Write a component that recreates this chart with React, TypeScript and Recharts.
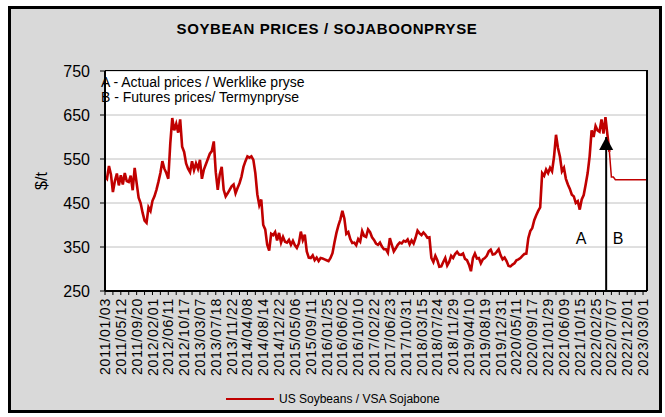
import React from 'react';
import {
  CartesianGrid,
  Line,
  LineChart,
  ReferenceDot,
  ReferenceLine,
  XAxis,
  YAxis
} from 'recharts';

// one label every ~88 trading days; values below are sampled 8 per label step
const tickLabels = [
  '2011/01/03', '2011/05/12', '2011/09/20', '2012/02/01', '2012/06/11', '2012/10/17',
  '2013/03/07', '2013/07/18', '2013/11/22', '2014/04/08', '2014/08/14', '2014/12/22',
  '2015/05/06', '2015/09/11', '2016/01/25', '2016/06/02', '2016/10/10', '2017/02/22',
  '2017/06/23', '2017/10/31', '2018/03/15', '2018/07/24', '2018/11/29', '2019/04/10',
  '2019/08/19', '2019/12/31', '2020/05/11', '2020/09/17', '2021/01/29', '2021/06/09',
  '2021/10/15', '2022/02/25', '2022/07/07', '2022/12/01', '2023/03/01'
];

const STEPS_PER_LABEL = 8;

// US soybeans, actual ($/t)
const actualPrices = [
  510, 505, 534, 515, 475, 500, 517, 490,
  513, 492, 518, 500, 498, 512, 479, 530,
  495, 462, 450, 428, 410, 405, 440, 432,
  455, 465, 480, 498, 518, 545, 528, 518,
  505, 585, 643, 615, 630, 610, 640, 578,
  566, 540, 528, 520, 545, 525, 540, 528,
  548, 505, 526, 538, 550, 562, 568, 590,
  520, 480, 515, 532, 480, 465, 472, 480,
  488, 492, 472, 484, 495, 510, 532, 545,
  556, 553, 556, 548, 518, 470, 445, 458,
  400, 390, 355, 342, 380, 377, 384, 365,
  382, 360, 373, 362, 360, 366, 355, 364,
  354, 348, 358, 385, 366, 378, 340, 326,
  325, 331, 320, 326, 318, 325, 324, 322,
  320, 318, 325, 336, 360, 382, 399, 413,
  432, 415, 380, 384, 368, 359, 360, 354,
  368, 362, 386, 375, 373, 390, 384, 372,
  366, 358, 355, 360, 351, 345, 345, 337,
  370, 355, 340, 347, 355, 360, 358, 364,
  362, 367, 356, 365, 358, 371, 387, 381,
  377, 383, 378, 371, 372, 325, 316, 330,
  320, 305, 306, 316, 325, 308, 316, 330,
  325, 334, 339, 333, 332, 335, 323, 320,
  310, 295, 325, 335, 324, 325, 313, 322,
  325, 330, 340, 344, 333, 334, 339, 345,
  331, 322, 326, 318, 307, 306, 310, 313,
  320, 322, 325, 330, 334, 335, 370, 386,
  393, 411, 422, 432, 440, 518, 512, 526,
  518, 530, 522, 555, 605, 575, 555, 522,
  530, 505, 492, 482, 469, 465, 450, 454,
  435, 458, 468, 492, 518, 556, 615, 600,
  625, 615, 612, 640, 608, 645, 605, 566
];

// futures, joined on to the last actual value
const futurePrices = [
  566, 509, 509, 503, 503, 503, 503, 503, 503, 503,
  503, 503, 503, 503, 503, 503, 503, 503, 503, 503
];

const yTicks = [250, 350, 450, 550, 650, 750];
const arrowAt = 31.67;
const arrowTip = 600;

const futureStart = actualPrices.length - 1;
const total = futureStart + futurePrices.length;
const data = Array.from({ length: total }, (_, i) => ({
  x: i / STEPS_PER_LABEL,
  actual: i < actualPrices.length ? actualPrices[i] : null,
  futures: i >= futureStart ? futurePrices[i - futureStart] : null
}));

const xMax = (total - 1) / STEPS_PER_LABEL;
const xTicks: number[] = [];
for (let t = 0; t <= xMax + 1e-9; t += 0.5) xTicks.push(Math.round(t * 2) / 2);

const font = '"Liberation Sans", Arial, sans-serif';
const red = '#c00000';

function DateTick(props: any) {
  const { x, y, payload } = props;
  const v = payload.value as number;
  const k = Math.round(v);
  if (Math.abs(v - k) > 1e-6 || !tickLabels[k]) return null;
  return (
    <text
      x={x}
      y={y}
      transform={`rotate(-90 ${x} ${y})`}
      textAnchor="end"
      dy="0.36em"
      fontSize={14}
      letterSpacing={0.8}
      fontFamily={font}
      fill="#000"
    >
      {tickLabels[k]}
    </text>
  );
}

export default function App() {
  return (
    <div style={{ position: 'absolute', left: 0, top: 0, width: 665, height: 417, fontFamily: font }}>
      <div
        style={{
          position: 'absolute',
          left: 8,
          top: 6,
          width: 648,
          height: 401,
          background: '#d9d9d9',
          border: '3px solid #000'
        }}
      />
      <div style={{ position: 'absolute', left: 0, top: 0 }}>
        <LineChart width={665} height={417} data={data} margin={{ top: 71, right: 18, bottom: 26, left: 0 }}>
          <CartesianGrid vertical={false} fill="#ffffff" stroke="#c0c0c0" strokeWidth={1} />
          <XAxis
            dataKey="x"
            type="number"
            domain={[0, xMax]}
            ticks={xTicks}
            interval={0}
            height={100}
            tick={<DateTick />}
            tickSize={4}
            tickMargin={3}
            tickLine={{ stroke: '#000' }}
            axisLine={{ stroke: '#000', strokeWidth: 2 }}
            allowDataOverflow
          />
          <YAxis
            type="number"
            domain={[250, 750]}
            ticks={yTicks}
            width={105}
            tickSize={5}
            tickMargin={10}
            tick={{ fontSize: 16, fill: '#000', fontFamily: font }}
            tickLine={{ stroke: '#000' }}
            axisLine={{ stroke: '#000', strokeWidth: 2 }}
          />
          <Line
            dataKey="actual"
            stroke={red}
            strokeWidth={2.6}
            dot={false}
            activeDot={false}
            isAnimationActive={false}
          />
          <Line
            dataKey="futures"
            stroke={red}
            strokeWidth={1.5}
            dot={false}
            activeDot={false}
            isAnimationActive={false}
          />
          <ReferenceLine
            segment={[{ x: arrowAt, y: 250 }, { x: arrowAt, y: arrowTip }]}
            stroke="#000"
            strokeWidth={2}
          />
          <ReferenceDot
            x={arrowAt}
            y={arrowTip}
            r={7}
            shape={(p: any) => <path d={`M${p.cx},${p.cy} l-7,13 l14,0 z`} fill="#000" />}
          />
        </LineChart>
      </div>
      <div
        style={{
          position: 'absolute',
          left: 105,
          top: 70,
          width: 541,
          height: 220,
          borderTop: '1px solid #000',
          borderRight: '2px solid #000',
          pointerEvents: 'none'
        }}
      />
      <svg width={665} height={417} style={{ position: 'absolute', left: 0, top: 0, pointerEvents: 'none' }}>
        <text x={327} y={34} textAnchor="middle" fontSize={15} fontWeight="bold" letterSpacing={0.6} fontFamily={font}>
          SOYBEAN PRICES / SOJABOONPRYSE
        </text>
        <text x={101} y={87} fontSize={14} fontFamily={font}>
          A - Actual prices / Werklike pryse
        </text>
        <text x={101} y={101.5} fontSize={14} fontFamily={font}>
          B - Futures prices/ Termynpryse
        </text>
        <text x={47} y={181} transform="rotate(-90 47 181)" textAnchor="middle" fontSize={16} fontFamily={font}>
          $/t
        </text>
        <text x={581} y={244} textAnchor="middle" fontSize={16} fontFamily={font}>
          A
        </text>
        <text x={618} y={244} textAnchor="middle" fontSize={16} fontFamily={font}>
          B
        </text>
        <line x1={226} y1={399} x2={274} y2={399} stroke={red} strokeWidth={2} />
        <text x={279} y={403} fontSize={12} fontFamily={font}>
          US Soybeans / VSA Sojabone
        </text>
      </svg>
    </div>
  );
}
